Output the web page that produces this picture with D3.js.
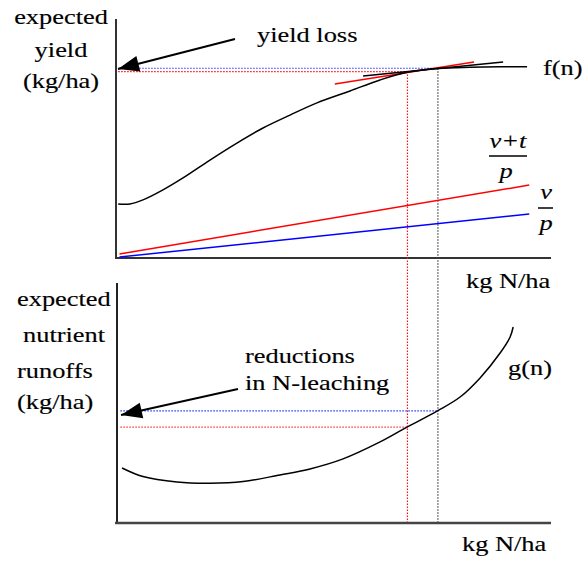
<!DOCTYPE html>
<html>
<head>
<meta charset="utf-8">
<script src="https://cdn.jsdelivr.net/npm/d3@7"></script>
<style>
  body { margin: 0; background: #fff; }
  text { font-family: "Liberation Serif", "Times New Roman", Times, serif; font-size: 22px; fill: #000; }
</style>
</head>
<body>
<script>
var w = 584;
var h = 561;

// yield curve f(n), x in kg N/ha (0-100 units), y in yield units (0-100)
var fN = [0.5, 3.2, 6.2, 10.8, 15.4, 21.6, 27.8, 33.8, 40.0, 46.2, 53.8, 60.7, 66.9, 74.0, 81.4, 88.3, 94.5];
var fY = [22.6, 22.6, 24.3, 28.5, 33.5, 41.0, 48.1, 54.4, 59.8, 64.9, 69.9, 74.5, 77.7, 79.3, 79.8, 80.0, 80.0];

// runoff curve g(n)
var gN = [1.4, 6.2, 14.0, 21.6, 29.2, 37.7, 44.6, 52.2, 60.7, 66.7, 74.0, 79.1, 83.7, 88.3, 90.6, 91.3];
var gY = [22.6, 19.0, 16.7, 16.2, 16.9, 19.7, 22.2, 26.4, 33.5, 39.5, 46.6, 52.3, 60.3, 70.7, 77.4, 81.6];

// price ratio lines (start, end)
var ratioN = [0.8, 95];
var vtpY = [1.7, 30.5];   // (v+t)/p
var vpY = [0.4, 18.4];    // v/p

// tangents at the two optimal points
var tanRedN = [50.3, 82.3], tanRedY = [72.8, 82.0];
var tanBlackN = [56.8, 89.0], tanBlackY = [76.2, 82.0];

// optimal n with tax (red) and without (black)
var nTax = 67.0;
var nFree = 74.0;
var fTax = 78.0, fFree = 79.4;
var gTax = 39.7, gFree = 46.5;

var x = d3.scaleLinear().domain([0, 100]).range([116, 551]);
var yTop = d3.scaleLinear().domain([0, 100]).range([258, 19]);
var yBot = d3.scaleLinear().domain([0, 100]).range([522, 283]);

var svg = d3.select("body").append("svg")
    .attr("width", w)
    .attr("height", h);

function pts(xs, ys) { return xs.map(function(d, i) { return [d, ys[i]]; }); }

function curve(xs, ys, ys_scale, color, width, smooth) {
  var line = d3.line()
      .x(function(d) { return x(d[0]); })
      .y(function(d) { return ys_scale(d[1]); });
  if (smooth) line.curve(d3.curveCatmullRom.alpha(0.5));
  svg.append("path")
      .attr("d", line(pts(xs, ys)))
      .attr("fill", "none")
      .attr("stroke", color)
      .attr("stroke-width", width);
}

// axes
svg.append("line").attr("x1", x(0)).attr("x2", x(0)).attr("y1", yTop(100)).attr("y2", yTop(0))
    .attr("stroke", "#333").attr("stroke-width", 2);
svg.append("line").attr("x1", x(0) - 1).attr("x2", x(100)).attr("y1", yTop(0)).attr("y2", yTop(0))
    .attr("stroke", "#333").attr("stroke-width", 2);
svg.append("line").attr("x1", x(0) + 1).attr("x2", x(0) + 1).attr("y1", yBot(100)).attr("y2", yBot(0))
    .attr("stroke", "#222").attr("stroke-width", 2);
svg.append("line").attr("x1", x(0) - 1).attr("x2", x(100)).attr("y1", yBot(0) + 1).attr("y2", yBot(0) + 1)
    .attr("stroke", "#444").attr("stroke-width", 2.5);

// dotted guide lines
function dotted(x1, y1, x2, y2, color) {
  svg.append("line")
      .attr("x1", x1).attr("y1", y1).attr("x2", x2).attr("y2", y2)
      .attr("stroke", color).attr("stroke-width", 1.2)
      .attr("stroke-dasharray", "1.5,1.5");
}
dotted(x(0.5), yTop(fFree), x(nFree), yTop(fFree), "#2233ff");
dotted(x(0.5), yTop(fTax), x(nTax), yTop(fTax), "#ff1111");
dotted(x(nTax), yTop(fTax), x(nTax), yBot(0), "#ff1111");
dotted(x(nFree), yTop(fFree), x(nFree), yBot(0), "#444");
dotted(x(1), yBot(gFree), x(nFree), yBot(gFree), "#2233ff");
dotted(x(1), yBot(gTax), x(nTax), yBot(gTax), "#ff3333");

// price lines
curve(ratioN, vtpY, yTop, "#ff0000", 1.5, false);
curve(ratioN, vpY, yTop, "#0000ff", 1.5, false);

// tangents
curve(tanRedN, tanRedY, yTop, "#ff0000", 1.5, false);
curve(tanBlackN, tanBlackY, yTop, "#000", 1.5, false);

// f(n), g(n)
curve(fN, fY, yTop, "#000", 1.5, true);
curve(gN, gY, yBot, "#000", 1.5, true);

// arrows
function arrow(x0, y0, x1, y1) {
  svg.append("line").attr("x1", x0).attr("y1", y0).attr("x2", x1).attr("y2", y1)
      .attr("stroke", "#000").attr("stroke-width", 2);
  var a = Math.atan2(y1 - y0, x1 - x0), L = 21, W = 8;
  var bx = x1 - L * Math.cos(a), by = y1 - L * Math.sin(a);
  var p = [[x1, y1],
           [bx + W * Math.sin(a), by - W * Math.cos(a)],
           [bx - W * Math.sin(a), by + W * Math.cos(a)]];
  svg.append("path").attr("d", "M" + p.join("L") + "Z").attr("fill", "#000");
}
arrow(235, 39, 118, 69);
arrow(238, 389, 121, 415);

// text labels (serif, stretched horizontally)
function label(t, tx, ty, anchor, italic) {
  svg.append("text")
      .attr("transform", "translate(" + tx + "," + ty + ") scale(1.2,1)")
      .attr("text-anchor", anchor || "start")
      .attr("font-family", "'Liberation Serif', 'Times New Roman', serif")
      .attr("stroke", "#000")
      .attr("stroke-width", 0.15)
      .style("font-style", italic ? "italic" : "normal")
      .text(t);
}
label("expected", 61, 24, "middle");
label("yield", 61, 57, "middle");
label("(kg/ha)", 61, 88, "middle");
label("yield loss", 257, 42);
label("f(n)", 543, 75);
label("kg N/ha", 466, 288);

label("expected", 17, 306);
label("nutrient", 23, 342);
label("runoffs", 17, 378);
label("(kg/ha)", 17, 409);
label("reductions", 245, 363);
label("in N-leaching", 245, 390);
label("g(n)", 508, 375);
label("kg N/ha", 462, 551);

// fraction labels
label("v+t", 508, 148, "middle", true);
svg.append("line").attr("x1", 489).attr("x2", 527).attr("y1", 156).attr("y2", 156)
    .attr("stroke", "#000").attr("stroke-width", 1.5);
label("p", 506, 178, "middle", true);
label("v", 546, 199, "middle", true);
svg.append("line").attr("x1", 538).attr("x2", 553).attr("y1", 208).attr("y2", 208)
    .attr("stroke", "#000").attr("stroke-width", 1.5);
label("p", 546, 230, "middle", true);
</script>
</body>
</html>
